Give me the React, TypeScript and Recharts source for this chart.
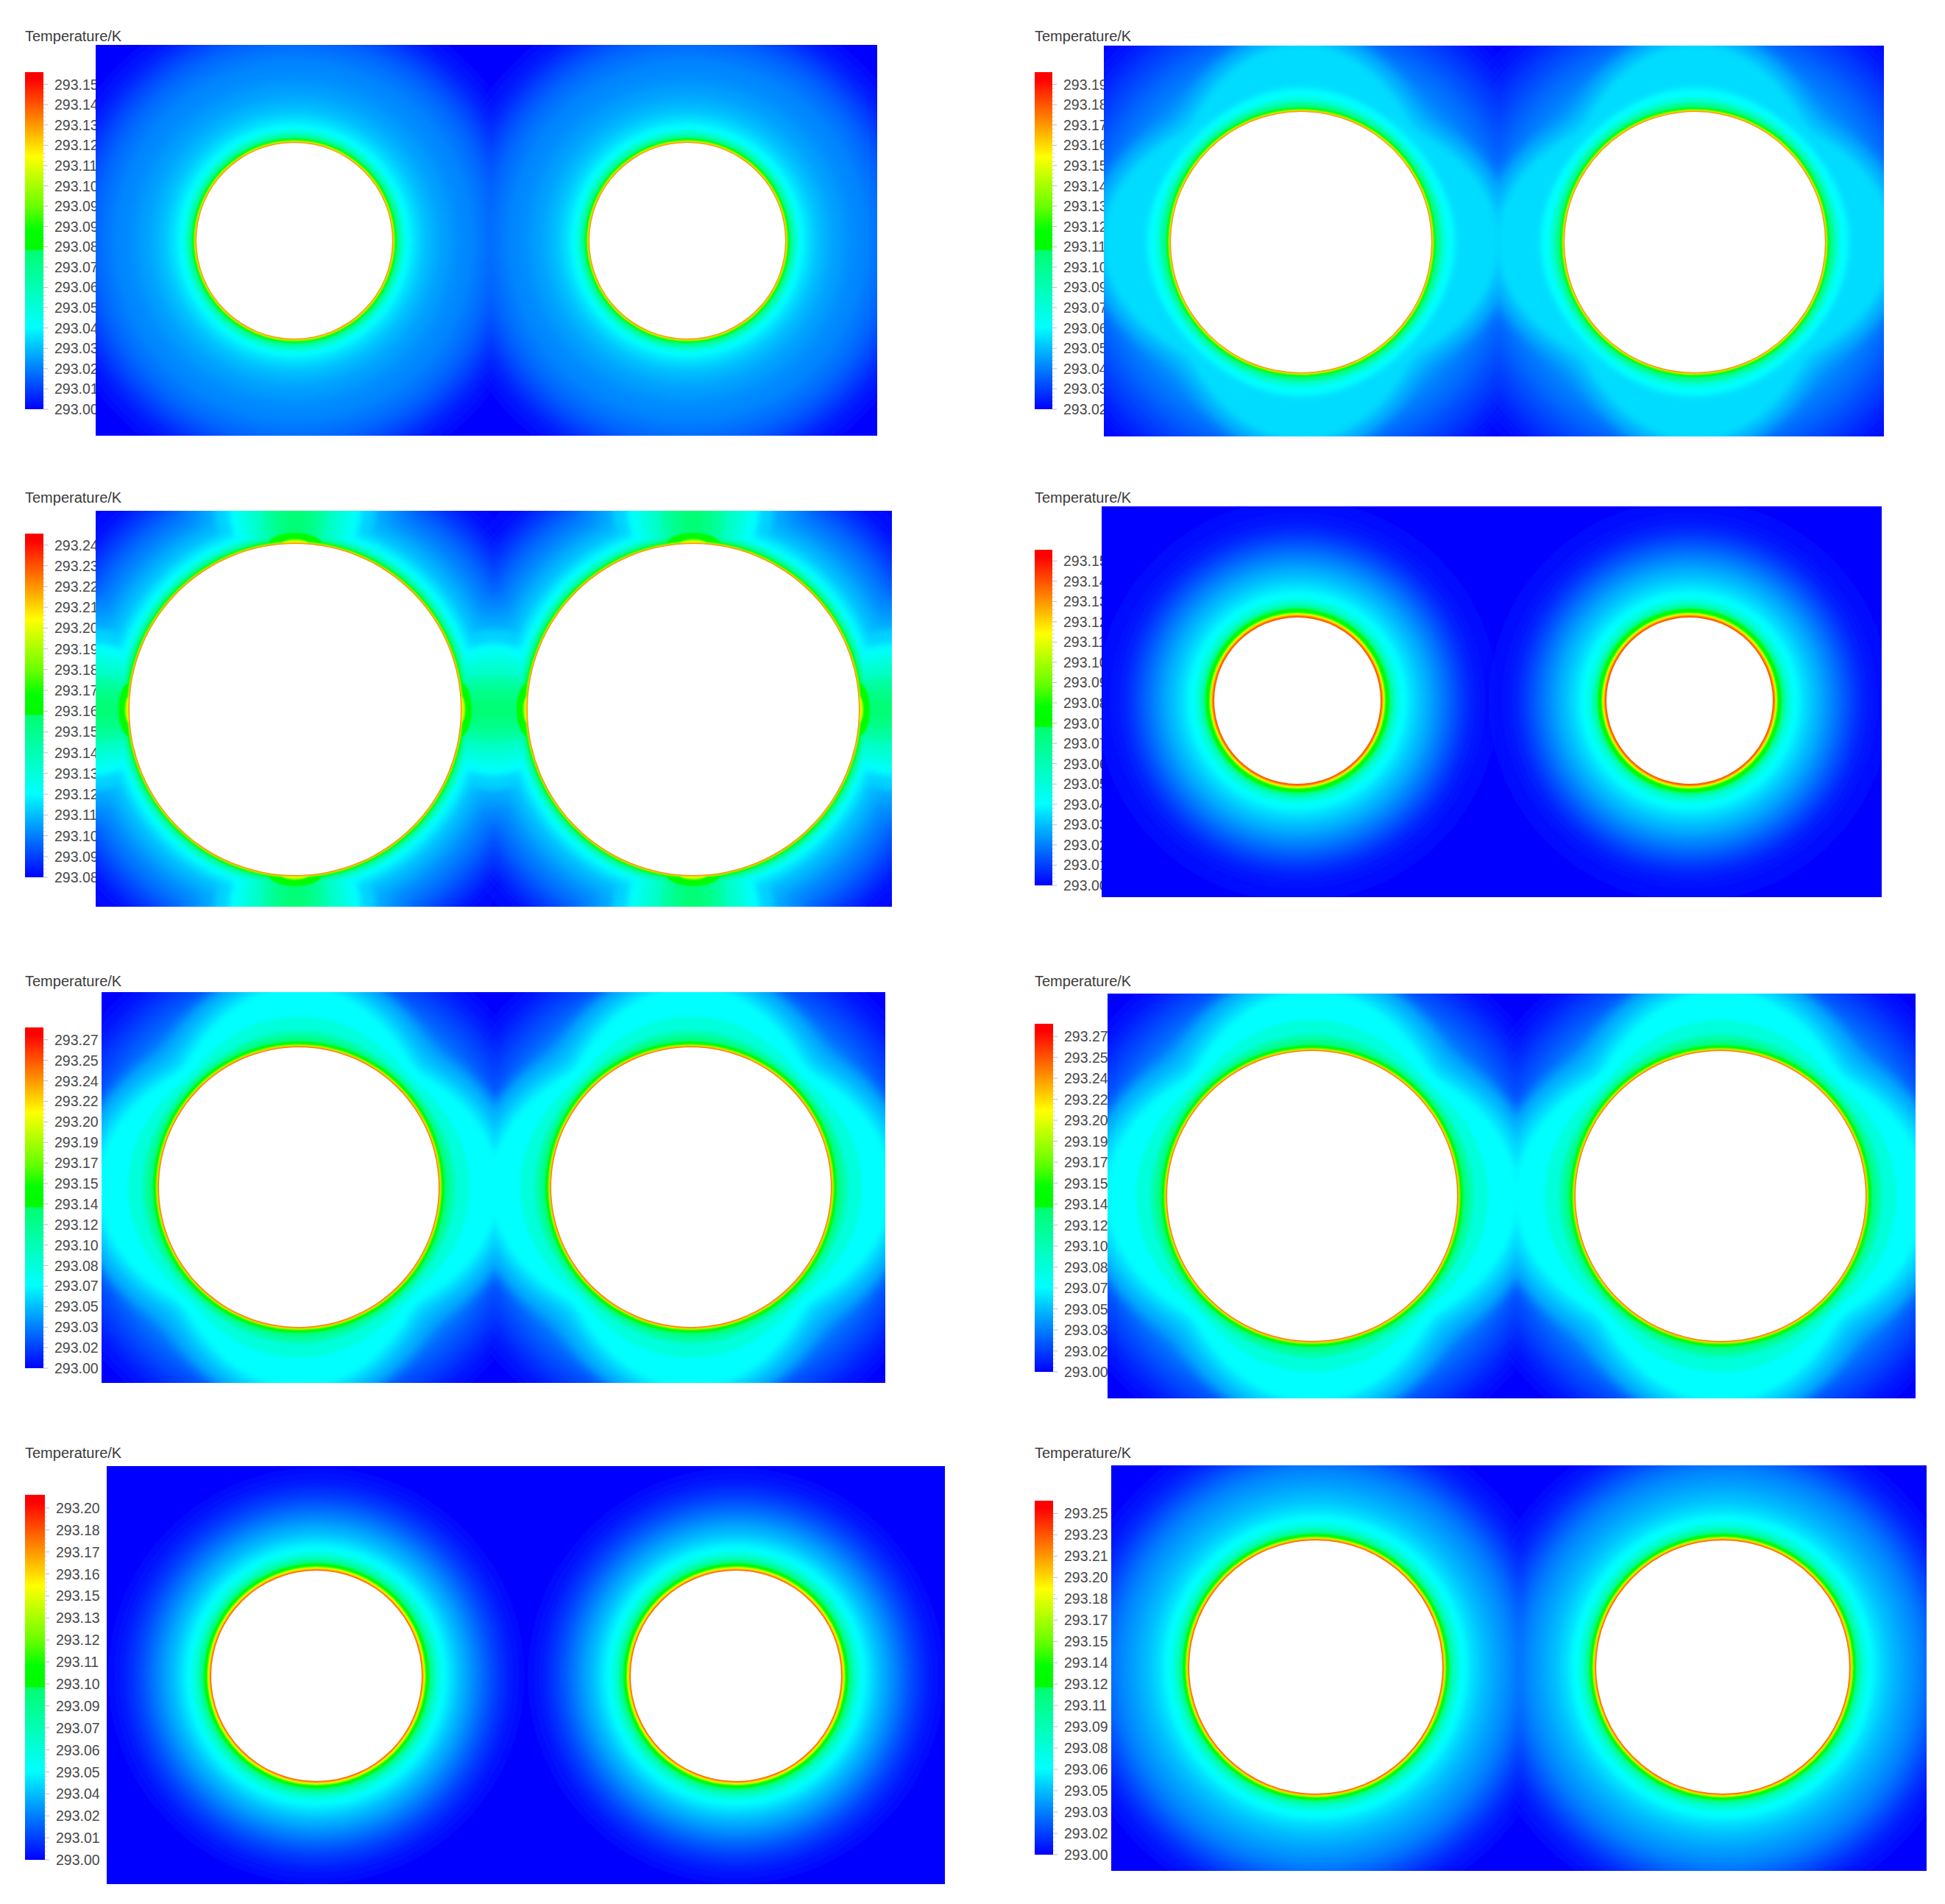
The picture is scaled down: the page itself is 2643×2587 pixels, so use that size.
import React from "react";
import { BarChart, Bar, ScatterChart, Scatter, XAxis, YAxis } from "recharts";

// ---------------------------
// Colour scale (fraction of the colour bar)
// ---------------------------
const stopAt = [0, 0.243, 0.47, 0.475, 0.53, 0.6, 0.75, 0.98, 1];
const stopRgb = [
  [0, 0, 255], [0, 255, 255], [0, 255, 112], [0, 250, 0], [0, 255, 0],
  [102, 255, 0], [255, 255, 0], [255, 0, 0], [255, 0, 0],
];

// ---------------------------
// Colour bar labels, top to bottom
// ---------------------------
const labelsA = ["293.15","293.14","293.13","293.12","293.11","293.10","293.09","293.09","293.08","293.07","293.06","293.05","293.04","293.03","293.02","293.01","293.00"];
const labelsB = ["293.19","293.18","293.17","293.16","293.15","293.14","293.13","293.12","293.11","293.10","293.09","293.07","293.06","293.05","293.04","293.03","293.02"];
const labelsC = ["293.24","293.23","293.22","293.21","293.20","293.19","293.18","293.17","293.16","293.15","293.14","293.13","293.12","293.11","293.10","293.09","293.08"];
const labelsD = ["293.15","293.14","293.13","293.12","293.11","293.10","293.09","293.08","293.07","293.07","293.06","293.05","293.04","293.03","293.02","293.01","293.00"];
const labelsE = ["293.27","293.25","293.24","293.22","293.20","293.19","293.17","293.15","293.14","293.12","293.10","293.08","293.07","293.05","293.03","293.02","293.00"];
const labelsF = labelsE;
const labelsG = ["293.20","293.18","293.17","293.16","293.15","293.13","293.12","293.11","293.10","293.09","293.07","293.06","293.05","293.04","293.02","293.01","293.00"];
const labelsH = ["293.25","293.23","293.21","293.20","293.18","293.17","293.15","293.14","293.12","293.11","293.09","293.08","293.06","293.05","293.03","293.02","293.00"];

// ---------------------------
// Contours: colour-bar fraction and distance from the tube wall for each panel
// ---------------------------
const ringLevels = [0.01, 0.03, 0.05, 0.07, 0.09, 0.11, 0.13, 0.15, 0.17, 0.19, 0.21, 0.243, 0.3, 0.38, 0.44, 0.5, 0.75, 0.9];
const offsetsA = [205, 190, 175, 162, 150, 135, 115, 85, 62, 48, 38, 27, 18, 12, 9, 6, 3, 1];
const offsetsB = [195, 178, 160, 142, 125, 108, 88, 70, 56, 44, 35, 26, 18, 12, 9, 6, 3, 1];
const offsetsC = [150, 130, 118, 106, 95, 85, 72, 60, 50, 40, 32, 24, 16, 10, 8, 5, 2.5, 1];
const offsetsD = [160, 135, 118, 108, 98, 90, 82, 73, 65, 57, 49, 38, 26, 18, 15, 12, 6, 3];
const offsetsE = [165, 150, 135, 120, 106, 92, 78, 62, 50, 42, 36, 29, 21, 14, 11, 8, 3.5, 1.5];
const offsetsF = [167, 152, 137, 122, 108, 94, 80, 64, 52, 44, 38, 31, 22, 15, 11, 8, 3.5, 1.5];
const offsetsG = [140, 125, 112, 100, 90, 82, 74, 66, 58, 51, 45, 36, 26, 18, 14, 10, 5, 2];
const offsetsH = [170, 155, 140, 128, 118, 108, 98, 85, 70, 58, 48, 36, 24, 16, 12, 9, 4.5, 2];

// Contours stretched towards the walls and the neighbouring tube
const lobeLevels = [0.15, 0.17, 0.19, 0.21, 0.243, 0.3, 0.38, 0.44];
const lobeAcrossB = [35, 26, 18, 10, 4, 2, 0, 0];
const lobeAlongB = [115, 105, 98, 92, 32, 20, 13, 10];
const lobeAcrossE = [45, 34, 24, 16, 6, 5, 2, 1];
const lobeAlongE = [113, 108, 100, 95, 85, 42, 22, 14];
const lobeAcrossF = [45, 34, 24, 16, 6, 5, 2, 1];
const lobeAlongF = [115, 110, 102, 97, 85, 42, 22, 14];

// Panel C: the narrow gaps between tube and wall / tube and tube
const gapLevels = [0.02, 0.09, 0.13, 0.16, 0.2, 0.243, 0.27, 0.3, 0.33, 0.38, 0.41, 0.44, 0.46];
const gapAcross = [195, 165, 150, 130, 110, 90, 80, 70, 58, 45, 35, 25, 12];
const gapAlong = [90, 90, 85, 85, 85, 85, 85, 85, 85, 85, 85, 85, 85];
const gapRowX = [271, 812];
const gapRowY = [0, 538];
const gapColX = [0, 541, 1082];
const kiteLevels = [0.5, 0.7];
const kiteWide = [36, 18];
const kiteTall = [15, 6];

const panels = [
  { name: "A", labels: labelsA, offsets: offsetsA, tubes: [270, 804], tubeY: 266, r: 133, w: 1062, h: 531, left: 130, top: 61, barX: 34, barY: 98, barW: 25, barH: 458, titleY: 49, top2: 0.6 },
  { name: "B", labels: labelsB, offsets: offsetsB, across: lobeAcrossB, along: lobeAlongB, tubes: [268, 803], tubeY: 267, r: 177, w: 1060, h: 531, left: 1500, top: 62, barX: 1406, barY: 98, barW: 24, barH: 458, titleY: 49, top2: 0.6 },
  { name: "C", labels: labelsC, offsets: offsetsC, tubes: [271, 812], tubeY: 270, r: 225, w: 1082, h: 538, left: 130, top: 694, barX: 34, barY: 725, barW: 25, barH: 467, titleY: 676, top2: 0.55 },
  { name: "D", labels: labelsD, offsets: offsetsD, tubes: [266, 799], tubeY: 264, r: 113, w: 1060, h: 531, left: 1497, top: 688, barX: 1406, barY: 747, barW: 24, barH: 456, titleY: 676, top2: 0.55 },
  { name: "E", labels: labelsE, offsets: offsetsE, across: lobeAcrossE, along: lobeAlongE, tubes: [268, 801], tubeY: 265, r: 190, w: 1065, h: 531, left: 138, top: 1348, barX: 34, barY: 1396, barW: 25, barH: 463, titleY: 1333, top2: 0.6 },
  { name: "F", labels: labelsF, offsets: offsetsF, across: lobeAcrossF, along: lobeAlongF, tubes: [278, 833], tubeY: 275, r: 197, w: 1098, h: 550, left: 1505, top: 1350, barX: 1406, barY: 1391, barW: 25, barH: 473, titleY: 1333, top2: 0.6 },
  { name: "G", labels: labelsG, offsets: offsetsG, tubes: [285, 855], tubeY: 285, r: 143, w: 1139, h: 568, left: 145, top: 1992, barX: 34, barY: 2031, barW: 27, barH: 496, titleY: 1974, top2: 0.6 },
  { name: "H", labels: labelsH, offsets: offsetsH, tubes: [278, 831], tubeY: 274, r: 172, w: 1108, h: 551, left: 1510, top: 1991, barX: 1406, barY: 2039, barW: 25, barH: 481, titleY: 1974, top2: 0.6 },
];

const minorSteps = [0, 0.2, 0.4, 0.6, 0.8];
const FONT = '"Liberation Sans", Arial, sans-serif';

const levelColor = (level: number) => {
  let i = 0;
  while (i < stopAt.length - 2 && level > stopAt[i + 1]) i++;
  const f = Math.min(1, (level - stopAt[i]) / (stopAt[i + 1] - stopAt[i]));
  const c = stopRgb[i].map((v, k) => Math.round(v + (stopRgb[i + 1][k] - v) * f));
  return `rgb(${c[0]},${c[1]},${c[2]})`;
};

const blurFor = (level: number) => {
  if (level < 0.2) return "url(#soft-wide)";
  if (level < 0.3) return "url(#soft-mid)";
  if (level < 0.47) return "url(#soft-low)";
  return "url(#soft-rim)";
};

const buildContours = (p: any) => {
  const rows: any[] = [];
  p.tubes.forEach((x: number) => {
    ringLevels.forEach((level, i) => {
      const r = p.r + p.offsets[i];
      rows.push({ x, y: p.tubeY, rx: r, ry: r, level });
    });
    if (p.across) {
      lobeLevels.forEach((level, i) => {
        const a = p.r + p.across[i];
        const b = p.r + p.along[i];
        rows.push({ x, y: p.tubeY, rx: a, ry: b, level });
        rows.push({ x, y: p.tubeY, rx: b, ry: a, level });
      });
    }
  });
  if (p.name === "C") {
    gapLevels.forEach((level, i) => {
      gapRowX.forEach((x) => gapRowY.forEach((y) => {
        rows.push({ x, y, rx: gapAcross[i], ry: gapAlong[i], level });
      }));
      gapColX.forEach((x) => {
        rows.push({ x, y: p.tubeY, rx: gapAlong[i], ry: gapAcross[i], level });
      });
    });
    kiteLevels.forEach((level, i) => {
      p.tubes.forEach((x: number) => {
        rows.push({ x, y: p.tubeY - p.r, rx: kiteWide[i], ry: kiteTall[i], level });
        rows.push({ x, y: p.tubeY + p.r, rx: kiteWide[i], ry: kiteTall[i], level });
        rows.push({ x: x - p.r, y: p.tubeY, rx: kiteTall[i], ry: kiteWide[i], level });
        rows.push({ x: x + p.r, y: p.tubeY, rx: kiteTall[i], ry: kiteWide[i], level });
      });
    });
  }
  return rows.sort((a, b) => a.level - b.level);
};

const ContourShape = (props: any) => {
  const { cx, cy, payload } = props;
  return (
    <ellipse cx={cx} cy={cy} rx={payload.rx} ry={payload.ry}
      fill={levelColor(payload.level)} filter={blurFor(payload.level)} />
  );
};

const TubeShape = (props: any) => (
  <circle cx={props.cx} cy={props.cy} r={props.payload.r} fill="#ffffff" filter="url(#soft-tube)" />
);

const Field = ({ p }: { p: any }) => {
  const contours = buildContours(p);
  const tubes = p.tubes.map((x: number) => ({ x, y: p.tubeY, r: p.r }));
  return (
    <div style={{ position: "absolute", left: p.left, top: p.top, width: p.w, height: p.h, overflow: "hidden", background: "#0000ff" }}>
      <ScatterChart width={p.w} height={p.h} margin={{ top: 0, right: 0, bottom: 0, left: 0 }}>
        <XAxis type="number" dataKey="x" domain={[0, p.w]} hide />
        <YAxis type="number" dataKey="y" domain={[0, p.h]} reversed hide />
        <Scatter data={contours} shape={ContourShape} isAnimationActive={false} />
        <Scatter data={tubes} shape={TubeShape} isAnimationActive={false} />
      </ScatterChart>
    </div>
  );
};

const ColorBar = ({ p }: { p: any }) => {
  const n = p.labels.length - 1;
  const span = n + p.top2;
  const bottomUp = [...p.labels].reverse();
  const ticks = bottomUp.flatMap((_: string, i: number) =>
    i === n ? [i] : minorSteps.map((s) => i + s));
  const BarTick = (props: any) => {
    const { x, y, payload } = props;
    const major = Number.isInteger(payload.value);
    return (
      <g>
        <line x1={x - 8} x2={x - 8 + (major ? 6 : 3)} y1={y} y2={y} stroke={major ? "#bbbbbb" : "#d4d4d4"} strokeWidth={1} />
        {major && (
          <text x={x + 7} y={y} dy="0.36em" fontFamily={FONT} fontSize={19.5} fill="#4a4a4a">
            {bottomUp[payload.value]}
          </text>
        )}
      </g>
    );
  };
  return (
    <div style={{ position: "absolute", left: p.barX, top: p.barY }}>
      <BarChart width={p.barW + 90} height={p.barH + 20} data={[{ name: "T", span }]} barCategoryGap={0}
        margin={{ top: 0, right: 0, bottom: 20, left: 0 }}>
        <defs>
          <linearGradient id={`bar-${p.name}`} x1="0" y1="1" x2="0" y2="0">
            {stopAt.map((s) => <stop key={s} offset={s} stopColor={levelColor(s)} />)}
          </linearGradient>
        </defs>
        <XAxis dataKey="name" hide />
        <YAxis type="number" orientation="right" domain={[0, span]} ticks={ticks} interval={0}
          width={90} axisLine={false} tickLine={false} tick={BarTick} />
        <Bar dataKey="span" fill={`url(#bar-${p.name})`} isAnimationActive={false} />
      </BarChart>
    </div>
  );
};

export default function App() {
  return (
    <div style={{ position: "absolute", left: 0, top: 0, width: 2643, height: 2587, background: "#ffffff", overflow: "hidden" }}>
      <svg width={0} height={0} style={{ position: "absolute" }}>
        <defs>
          <filter id="soft-wide" x="-10%" y="-10%" width="120%" height="120%"><feGaussianBlur stdDeviation={8} /></filter>
          <filter id="soft-mid" x="-10%" y="-10%" width="120%" height="120%"><feGaussianBlur stdDeviation={5} /></filter>
          <filter id="soft-low" x="-10%" y="-10%" width="120%" height="120%"><feGaussianBlur stdDeviation={2.5} /></filter>
          <filter id="soft-rim" x="-30%" y="-30%" width="160%" height="160%"><feGaussianBlur stdDeviation={0.9} /></filter>
          <filter id="soft-tube" x="-5%" y="-5%" width="110%" height="110%"><feGaussianBlur stdDeviation={0.7} /></filter>
        </defs>
      </svg>
      {panels.map((p) => (
        <div key={p.name}>
          <div style={{ position: "absolute", left: p.barX, top: p.titleY - 12, fontFamily: FONT, fontSize: 20, lineHeight: "24px", color: "#3a3a3a", whiteSpace: "nowrap" }}>
            Temperature/K
          </div>
          <ColorBar p={p} />
          <Field p={p} />
        </div>
      ))}
    </div>
  );
}
